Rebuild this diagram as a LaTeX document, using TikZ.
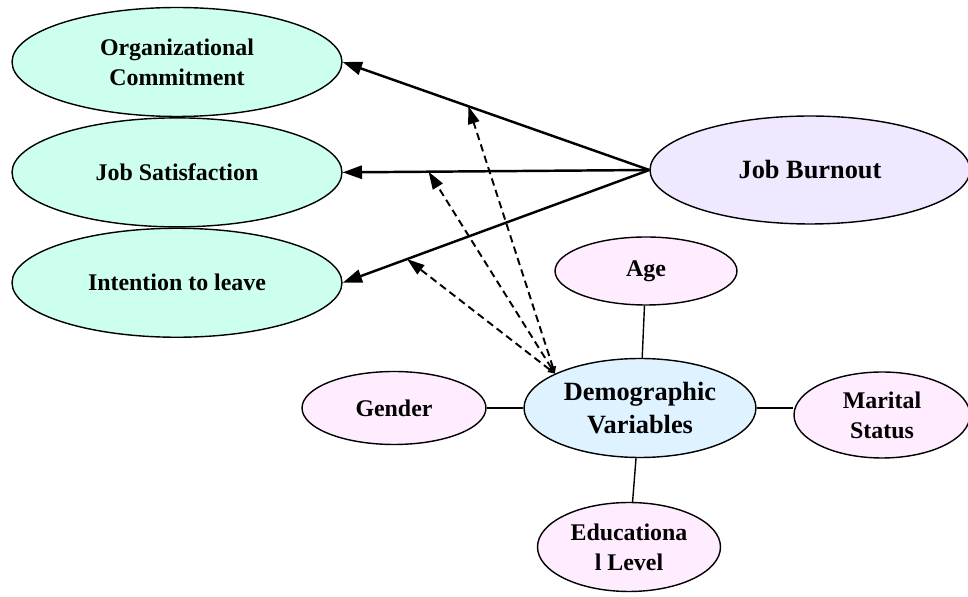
\documentclass[tikz,border=0pt]{standalone}
\usepackage{fontspec}
\setmainfont{Liberation Serif}
\usepackage{xcolor}
\usetikzlibrary{shapes.geometric}
\usetikzlibrary{arrows.meta}
\usetikzlibrary{positioning}
\definecolor{mint}{rgb}{0.80, 1.00, 0.93}
\definecolor{lavender}{rgb}{0.94, 0.91, 1.00}
\definecolor{blush}{rgb}{1.00, 0.93, 1.00}
\definecolor{paleblue}{rgb}{0.87, 0.95, 1.00}
\tikzset{%
  bubble/.style={ellipse,draw=black,line width=0.8pt,inner sep=0pt,align=center,font=\fontsize{13.6}{17}\selectfont\bfseries}
}
\tikzset{%
  outcome/.style={bubble,fill=mint,minimum width=6.6cm,minimum height=2.18cm},
  factor/.style={bubble,fill=blush}
}
\tikzset{%
  effect/.style={-{Triangle[length=11pt,width=7.5pt]},line width=1.4pt},
  moderate/.style={{Triangle[length=4pt,width=3.5pt]}-{Triangle[length=10pt,width=6.5pt]},line width=1.1pt,dash pattern=on 4.2pt off 2.6pt},
  link/.style={line width=0.8pt}
}

\begin{document}
\begin{tikzpicture}[x=0.02cm,y=-0.02cm]
            \useasboundingbox (0,0) rectangle (968,597);

            \node[outcome](org) at (177,62){Organizational\\Commitment};
            \node[outcome,below=0pt of org](sat){Job Satisfaction};
            \node[outcome,below=0pt of sat](leave){Intention to leave};

            \node[bubble,fill=lavender,minimum width=6.4cm,minimum height=2.16cm,
                  font=\fontsize{15}{19}\selectfont\bfseries](burn) at (810,170){Job Burnout};

            \node[bubble,fill=paleblue,minimum width=4.64cm,minimum height=1.98cm,
                  font=\fontsize{15}{19}\selectfont\bfseries](demo) at (640,408){Demographic\\Variables};
            \node[factor,minimum width=3.64cm,minimum height=1.36cm](age) at (646,271){Age};
            \node[factor,minimum width=3.68cm,minimum height=1.46cm](gender) at (394,408){Gender};
            \node[factor,minimum width=3.52cm,minimum height=1.72cm](marital) at (882,415){Marital\\Status};
            \node[factor,minimum width=3.66cm,minimum height=1.78cm](edu) at (629,547){Educationa\\l Level};

            \draw[effect] (burn.west) -- coordinate[pos=0.59](onorg) (org.east);
            \draw[effect] (burn.west) -- coordinate[pos=0.72](onsat) (sat.east);
            \draw[effect] (burn.west) -- coordinate[pos=0.79](onleave) (leave.east);

            \draw[moderate] (demo.158) -- (onorg);
            \draw[moderate] (demo.158) -- (onsat);
            \draw[moderate] (demo.158) -- (onleave);

            \draw[link] (demo) -- (age);
            \draw[link] (demo) -- (gender);
            \draw[link] (demo.east) -- (demo.east -| marital.west);
            \draw[link] (demo) -- (edu);
        \end{tikzpicture}
\end{document}
